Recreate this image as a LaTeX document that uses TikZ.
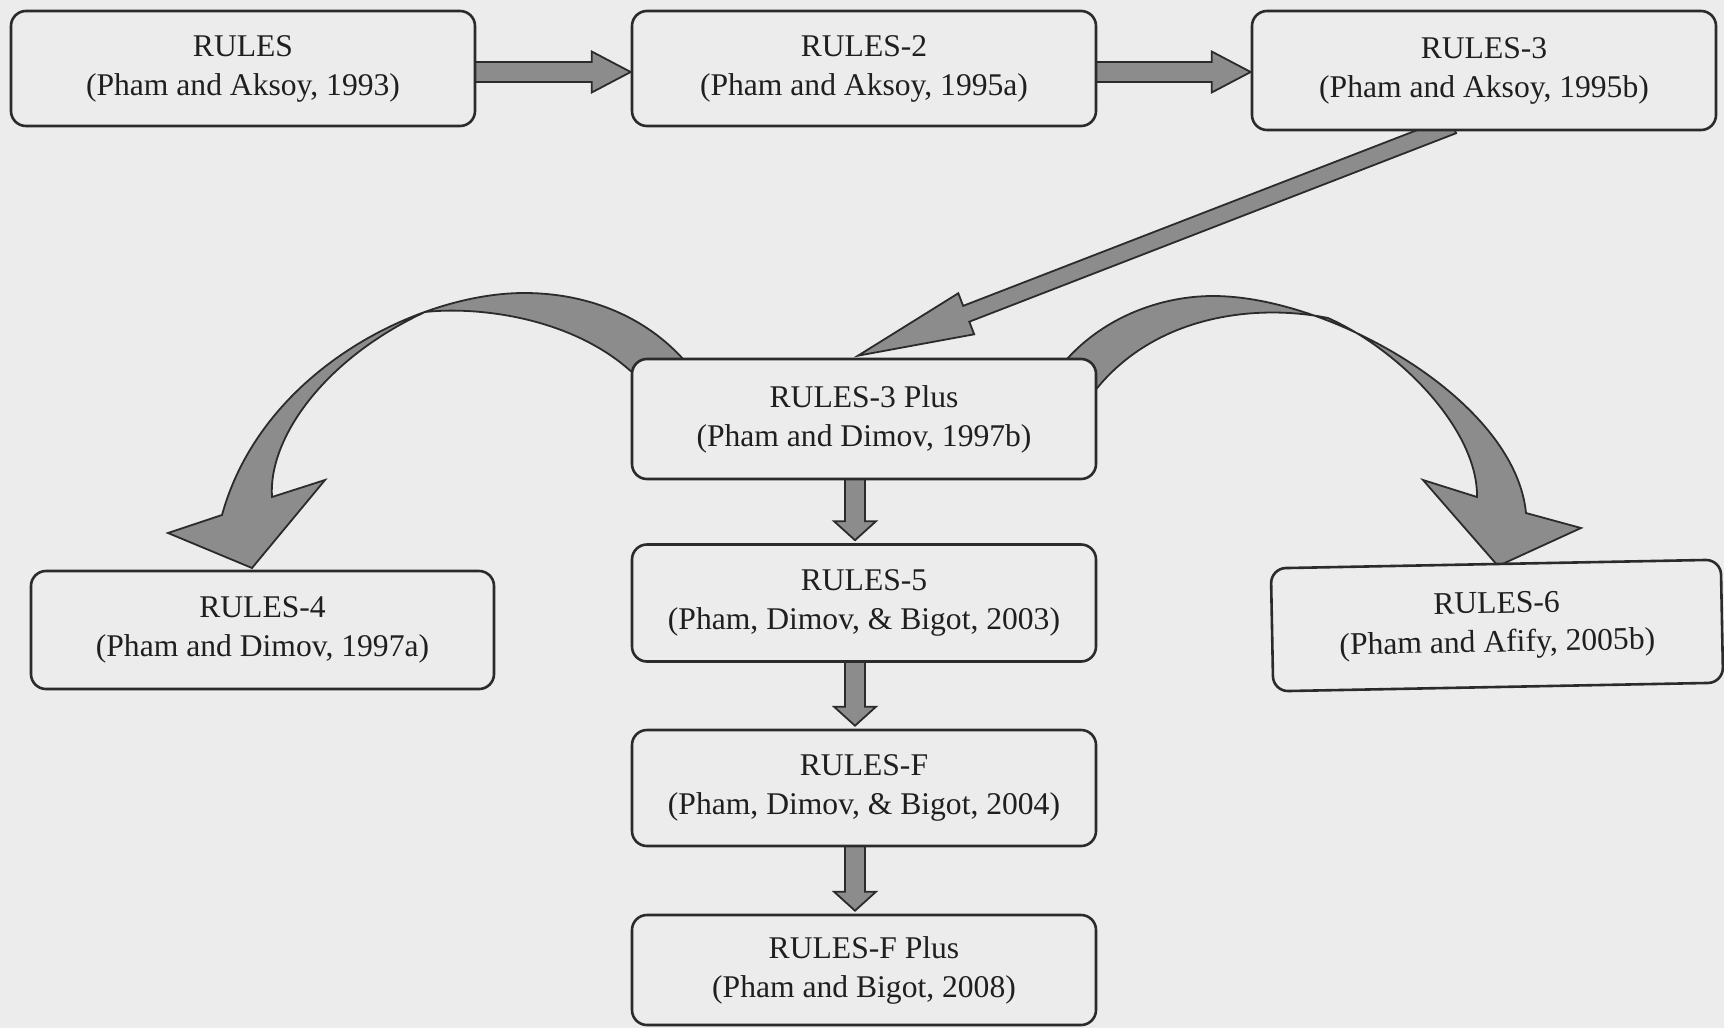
\documentclass[tikz,border=0pt]{standalone}
\usepackage{fontspec}
\setmainfont{Liberation Serif}
\usetikzlibrary{calc}
\pgfdeclarelayer{bg}
\pgfdeclarelayer{arrows}
\pgfsetlayers{bg,arrows,main}
\definecolor{paper}{HTML}{ECECEC}
\definecolor{ink}{HTML}{2B2B2B}
\definecolor{arrowgray}{HTML}{8C8C8C}
\definecolor{textgray}{HTML}{1F1F1F}
\tikzset{
  algbox/.style={draw=ink, fill=paper, line width=1.3pt, rounded corners=7.5pt,
    minimum width=232pt, align=center, inner sep=0pt,
    font=\fontsize{15.8}{19.5}\selectfont, text=textgray},
  arrowbody/.style={fill=arrowgray, draw=ink, line width=0.9pt, line join=miter},
  ribbon/.style={fill=arrowgray, draw=ink, line width=0.9pt, line join=miter},
}
% straight block arrow: #1 from, #2 to, #3 half shaft, #4 half head, #5 head length
\newcommand\blockarrow[5]{%
  \path[arrowbody] let \p1=#1, \p2=#2,
      \n1={atan2(\y2-\y1,\x2-\x1)}, \n2={veclen(\x2-\x1,\y2-\y1)} in
    ([shift={(\p1)},rotate=\n1]0pt,#3)
    -- ([shift={(\p1)},rotate=\n1]\n2-#5,#3)
    -- ([shift={(\p1)},rotate=\n1]\n2-#5,#4)
    -- ([shift={(\p1)},rotate=\n1]\n2,0pt)
    -- ([shift={(\p1)},rotate=\n1]\n2-#5,-#4)
    -- ([shift={(\p1)},rotate=\n1]\n2-#5,-#3)
    -- ([shift={(\p1)},rotate=\n1]0pt,-#3) -- cycle;%
}
\begin{document}
\begin{tikzpicture}[x=0.5pt,y=-0.5pt]
\begin{pgfonlayer}{bg}
  \fill[paper] (0,0) rectangle (1724,1028);
\end{pgfonlayer}
\useasboundingbox (0,0) rectangle (1724,1028);

% algorithm boxes
\node[algbox, minimum height=57.5pt] (r1) at (243,68.5) {RULES\\(Pham and Aksoy, 1993)};
\node[algbox, minimum height=57.5pt] (r2) at (864,68.5) {RULES-2\\(Pham and Aksoy, 1995a)};
\node[algbox, minimum height=59.5pt] (r3) at (1484,70.5) {RULES-3\\(Pham and Aksoy, 1995b)};
\node[algbox, minimum height=60pt] (r3p) at (864,419) {RULES-3 Plus\\(Pham and Dimov, 1997b)};
\node[algbox, minimum height=59pt, minimum width=231.5pt] (r4) at (262.5,630) {RULES-4\\(Pham and Dimov, 1997a)};
\node[algbox, minimum height=58.5pt] (r5) at (864,603) {RULES-5\\(Pham, Dimov, \& Bigot, 2003)};
\node[algbox, minimum height=61.5pt, minimum width=225pt, rotate=1.1] (r6) at (1497,625.5) {RULES-6\\(Pham and Afify, 2005b)};
\node[algbox, minimum height=58pt] (rf) at (864,788) {RULES-F\\(Pham, Dimov, \& Bigot, 2004)};
\node[algbox, minimum height=55pt] (rfp) at (864,970) {RULES-F Plus\\(Pham and Bigot, 2008)};

\begin{pgfonlayer}{arrows}
  % top row
  \blockarrow{($(r1.east)+(-6,3.5)$)}{($(r2.west)+(0,3.5)$)}{5pt}{10.25pt}{19.5pt}
  \blockarrow{($(r2.east)+(-6,3.5)$)}{($(r3.west)+(0,1.5)$)}{5pt}{10.25pt}{19.5pt}
  % diagonal
  \blockarrow{($(r3.south)+(-31,-6)$)}{($(r3p.north)+(-6,-2)$)}{4.25pt}{11pt}{58pt}
  % central column
  \blockarrow{($(r3p.south)+(-9,-5)$)}{($(r5.north)+(-9,-3)$)}{5pt}{10.5pt}{9.5pt}
  \blockarrow{($(r5.south)+(-9,-5)$)}{($(rf.north)+(-9,-3)$)}{5pt}{10.5pt}{9.5pt}
  \blockarrow{($(rf.south)+(-9,-5)$)}{($(rfp.north)+(-9,-3)$)}{5pt}{10.5pt}{9.5pt}
  % curved arrow to RULES-4
  \path[ribbon] (690,367) .. controls (650,318) and (590,293) .. (524,293)
    .. controls (420,293) and (262,370) .. (222,515)
    -- (168,533) -- (252,568) -- (325,480) -- (272,497)
    .. controls (268,440) and (322,360) .. (425,312)
    .. controls (480,306) and (580,318) .. (640,380) -- cycle;
  % curved arrow to RULES-6
  \path[ribbon] (1061,366) .. controls (1100,318) and (1160,296) .. (1213,296)
    .. controls (1330,296) and (1515,400) .. (1526,513)
    -- (1581,528) -- (1498,566) -- (1423,480) -- (1477,497)
    .. controls (1478,430) and (1400,350) .. (1328,318)
    .. controls (1260,304) and (1150,312) .. (1088,400) -- cycle;
\end{pgfonlayer}
\end{tikzpicture}
\end{document}
